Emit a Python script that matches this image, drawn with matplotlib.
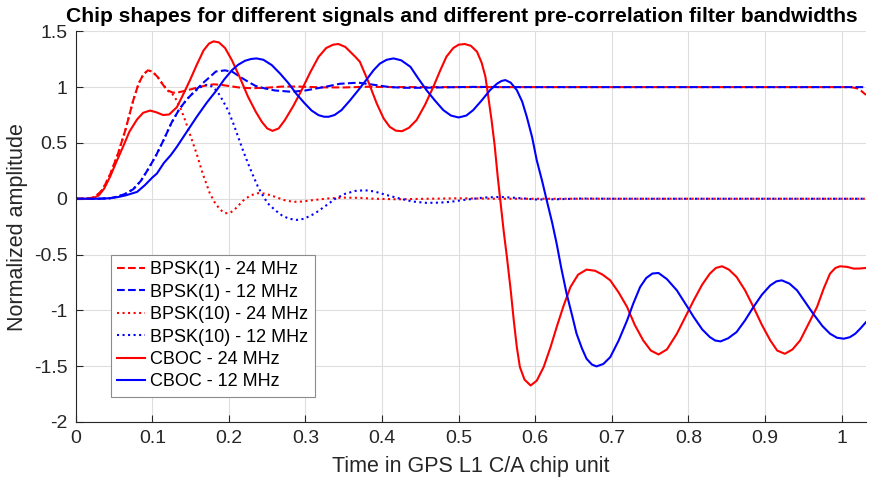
import matplotlib
matplotlib.use("Agg")
import matplotlib.pyplot as plt

plt.rcParams['font.family'] = ['Liberation Sans', 'DejaVu Sans']

# BPSK(1), 24 MHz
bpsk1_24_x = [0, 0.015, 0.025, 0.035, 0.045, 0.055, 0.065, 0.075, 0.082, 0.088, 0.094, 0.100, 0.107,
              0.114, 0.120, 0.127, 0.135, 0.145, 0.158, 0.170, 0.180, 0.190, 0.200, 0.215, 0.230,
              0.250, 0.270, 0.290, 0.320, 0.350, 0.380, 0.420, 0.500, 0.600, 0.700, 0.800, 0.900,
              1.000, 1.012, 1.020, 1.026, 1.032]
bpsk1_24_y = [0, 0, 0.015, 0.08, 0.22, 0.40, 0.62, 0.88, 1.03, 1.11, 1.15, 1.14, 1.09,
              1.02, 0.97, 0.95, 0.955, 0.97, 0.995, 1.015, 1.025, 1.02, 1.01, 0.995, 0.99,
              0.995, 1.005, 1.005, 0.998, 0.997, 1.003, 1.0, 1.0, 1.0, 1.0, 1.0, 1.0,
              1.0, 1.0, 0.99, 0.965, 0.93]

# BPSK(1), 12 MHz
bpsk1_12_x = [0, 0.030, 0.045, 0.055, 0.065, 0.075, 0.085, 0.095, 0.105, 0.115, 0.125, 0.135, 0.145,
              0.155, 0.165, 0.175, 0.183, 0.195, 0.205, 0.215, 0.225, 0.235, 0.247, 0.260, 0.282,
              0.300, 0.326, 0.345, 0.369, 0.390, 0.410, 0.430, 0.455, 0.480, 0.520, 0.560, 0.700,
              0.850, 1.000, 1.032]
bpsk1_12_y = [0, 0, 0.005, 0.02, 0.045, 0.085, 0.16, 0.27, 0.39, 0.53, 0.68, 0.80, 0.89,
              0.96, 1.03, 1.09, 1.14, 1.15, 1.135, 1.09, 1.048, 1.01, 0.988, 0.97, 0.958,
              0.97, 1.003, 1.03, 1.04, 1.02, 1.0, 0.994, 0.994, 0.998, 1.002, 1.0, 1.0,
              1.0, 1.0, 1.0]

# BPSK(10), 24 MHz
bpsk10_24_x = [0, 0.015, 0.025, 0.035, 0.045, 0.055, 0.065, 0.075, 0.082, 0.088, 0.094, 0.100, 0.107,
               0.114, 0.120, 0.126, 0.132, 0.138, 0.143, 0.150, 0.158, 0.166, 0.175, 0.182, 0.189,
               0.195, 0.202, 0.210, 0.218, 0.228, 0.238, 0.248, 0.260, 0.272, 0.284, 0.296, 0.310,
               0.330, 0.350, 0.370, 0.390, 0.420, 0.460, 0.500, 0.550, 0.600, 0.800, 1.032]
bpsk10_24_y = [0, 0, 0.015, 0.08, 0.22, 0.40, 0.62, 0.88, 1.03, 1.11, 1.15, 1.14, 1.09,
               1.02, 0.97, 0.94, 0.88, 0.79, 0.70, 0.56, 0.40, 0.22, 0.05, -0.04, -0.10,
               -0.13, -0.125, -0.08, -0.02, 0.03, 0.05, 0.045, 0.018, -0.012, -0.028, -0.025, -0.012,
               0.003, 0.01, 0.008, 0.0, -0.005, 0.0, 0.004, 0.0, 0.0, 0.0, 0.0]

# BPSK(10), 12 MHz
bpsk10_12_x = [0, 0.030, 0.045, 0.055, 0.065, 0.075, 0.085, 0.095, 0.105, 0.115, 0.125, 0.135, 0.145,
               0.155, 0.163, 0.171, 0.178, 0.185, 0.192, 0.199, 0.206, 0.212, 0.218, 0.225, 0.232,
               0.238, 0.245, 0.251, 0.260, 0.269, 0.278, 0.288, 0.298, 0.312, 0.325, 0.339, 0.352,
               0.365, 0.378, 0.390, 0.405, 0.424, 0.440, 0.458, 0.475, 0.489, 0.510, 0.532, 0.554,
               0.575, 0.602, 0.630, 0.660, 0.700, 0.850, 1.032]
bpsk10_12_y = [0, 0, 0.005, 0.02, 0.045, 0.085, 0.16, 0.27, 0.39, 0.53, 0.68, 0.80, 0.89,
               0.96, 1.0, 1.02, 1.005, 0.96, 0.88, 0.79, 0.67, 0.555, 0.44, 0.316, 0.20,
               0.106, 0.02, -0.043, -0.10, -0.148, -0.178, -0.19, -0.18, -0.133, -0.07, 0.0, 0.045,
               0.07, 0.076, 0.065, 0.035, 0.0, -0.025, -0.037, -0.035, -0.028, -0.008, 0.01, 0.016,
               0.008, -0.007, -0.004, 0.002, 0.0, 0.0, 0.0]

# CBOC, 24 MHz
cboc_24_x = [0, 0.015, 0.023, 0.030, 0.037, 0.045, 0.053, 0.062, 0.070, 0.080, 0.088, 0.097, 0.105,
             0.114, 0.122, 0.132, 0.140, 0.149, 0.158, 0.167, 0.174, 0.180, 0.187, 0.195, 0.204,
             0.214, 0.225, 0.235, 0.243, 0.250, 0.257, 0.265, 0.273, 0.284, 0.295, 0.306, 0.317,
             0.327, 0.336, 0.343, 0.352, 0.365, 0.371, 0.382, 0.393, 0.402, 0.410, 0.418, 0.426,
             0.435, 0.445, 0.456, 0.467, 0.476, 0.484, 0.493, 0.500, 0.508, 0.516, 0.524, 0.530,
             0.535, 0.539, 0.543, 0.547, 0.551, 0.555, 0.559, 0.563, 0.568, 0.572, 0.576, 0.580,
             0.586, 0.594, 0.602, 0.611, 0.620, 0.628, 0.637, 0.646, 0.656, 0.667, 0.678, 0.688,
             0.698, 0.709, 0.720, 0.730, 0.741, 0.751, 0.761, 0.772, 0.785, 0.796, 0.807, 0.818,
             0.828, 0.836, 0.844, 0.853, 0.863, 0.874, 0.885, 0.896, 0.907, 0.916, 0.926, 0.936,
             0.946, 0.957, 0.968, 0.977, 0.985, 0.992, 0.998, 1.007, 1.016, 1.024, 1.032]
cboc_24_y = [0, 0, 0.005, 0.03, 0.09, 0.20, 0.33, 0.47, 0.60, 0.71, 0.77, 0.79, 0.775,
             0.75, 0.755, 0.82, 0.93, 1.06, 1.20, 1.33, 1.39, 1.41, 1.40, 1.35, 1.24,
             1.09, 0.913, 0.78, 0.689, 0.63, 0.608, 0.63, 0.704, 0.83, 0.973, 1.13, 1.27,
             1.35, 1.38, 1.386, 1.36, 1.272, 1.227, 1.05, 0.854, 0.72, 0.644, 0.61, 0.605,
             0.635, 0.704, 0.84, 1.003, 1.15, 1.272, 1.35, 1.38, 1.386, 1.37, 1.317, 1.22,
             1.092, 0.90, 0.704, 0.48, 0.20, -0.05, -0.30, -0.52, -0.82, -1.09, -1.33, -1.508,
             -1.62, -1.673, -1.63, -1.508, -1.33, -1.15, -0.96, -0.791, -0.68, -0.635, -0.645, -0.68,
             -0.731, -0.84, -0.97, -1.13, -1.269, -1.36, -1.395, -1.35, -1.209, -1.06, -0.91, -0.77,
             -0.671, -0.62, -0.605, -0.635, -0.701, -0.82, -0.97, -1.13, -1.269, -1.36, -1.389, -1.35,
             -1.269, -1.12, -0.97, -0.80, -0.671, -0.62, -0.605, -0.61, -0.626, -0.625, -0.62]

# CBOC, 12 MHz
cboc_12_x = [0, 0.030, 0.045, 0.055, 0.065, 0.080, 0.090, 0.100, 0.106, 0.115, 0.124, 0.132, 0.145,
             0.158, 0.171, 0.184, 0.194, 0.204, 0.212, 0.221, 0.229, 0.236, 0.245, 0.256, 0.267,
             0.278, 0.288, 0.299, 0.308, 0.317, 0.324, 0.330, 0.338, 0.347, 0.358, 0.369, 0.380,
             0.389, 0.397, 0.406, 0.415, 0.425, 0.437, 0.447, 0.458, 0.469, 0.480, 0.490, 0.500,
             0.510, 0.519, 0.530, 0.541, 0.550, 0.556, 0.561, 0.568, 0.576, 0.583, 0.589, 0.596,
             0.602, 0.609, 0.615, 0.622, 0.628, 0.634, 0.641, 0.648, 0.654, 0.661, 0.667, 0.674,
             0.680, 0.689, 0.698, 0.709, 0.720, 0.728, 0.737, 0.745, 0.753, 0.761, 0.772, 0.785,
             0.796, 0.807, 0.818, 0.828, 0.835, 0.842, 0.852, 0.863, 0.874, 0.885, 0.896, 0.907,
             0.915, 0.922, 0.932, 0.942, 0.953, 0.963, 0.975, 0.985, 0.994, 1.003, 1.011, 1.018,
             1.025, 1.032]
cboc_12_y = [0, 0, 0.005, 0.015, 0.03, 0.061, 0.12, 0.19, 0.226, 0.32, 0.39, 0.465, 0.60,
             0.734, 0.86, 0.973, 1.07, 1.152, 1.20, 1.236, 1.252, 1.257, 1.245, 1.197, 1.12,
             1.033, 0.94, 0.854, 0.79, 0.749, 0.735, 0.734, 0.75, 0.794, 0.88, 0.973, 1.07,
             1.152, 1.21, 1.245, 1.257, 1.24, 1.182, 1.08, 0.973, 0.88, 0.794, 0.745, 0.728,
             0.745, 0.794, 0.88, 0.973, 1.03, 1.055, 1.063, 1.04, 0.973, 0.87, 0.734, 0.55,
             0.345, 0.16, -0.013, -0.21, -0.402, -0.62, -0.85, -1.04, -1.209, -1.34, -1.433, -1.485,
             -1.502, -1.48, -1.419, -1.27, -1.09, -0.94, -0.791, -0.71, -0.67, -0.665, -0.72, -0.821,
             -0.94, -1.06, -1.17, -1.239, -1.27, -1.278, -1.25, -1.194, -1.09, -0.97, -0.86, -0.776,
             -0.74, -0.731, -0.76, -0.821, -0.93, -1.03, -1.14, -1.209, -1.245, -1.254, -1.24, -1.209,
             -1.16, -1.105]

x_ticks = [0, 0.1, 0.2, 0.3, 0.4, 0.5, 0.6, 0.7, 0.8, 0.9, 1]
y_ticks = [-2, -1.5, -1, -0.5, 0, 0.5, 1, 1.5]

fig = plt.figure(figsize=(8.8, 4.86), dpi=100)
ax = fig.add_axes([0.0861, 0.1317, 0.898, 0.8039])

lw = 1.5
ax.plot(bpsk1_24_x, bpsk1_24_y, '--', color='red', lw=lw, label='BPSK(1) - 24 MHz')
ax.plot(bpsk1_12_x, bpsk1_12_y, '--', color='blue', lw=lw, label='BPSK(1) - 12 MHz')
ax.plot(bpsk10_24_x, bpsk10_24_y, ':', color='red', lw=lw, label='BPSK(10) - 24 MHz')
ax.plot(bpsk10_12_x, bpsk10_12_y, ':', color='blue', lw=lw, label='BPSK(10) - 12 MHz')
ax.plot(cboc_24_x, cboc_24_y, '-', color='red', lw=lw, label='CBOC - 24 MHz')
ax.plot(cboc_12_x, cboc_12_y, '-', color='blue', lw=lw, label='CBOC - 12 MHz')

ax.set_xlim(0, 1.032)
ax.set_ylim(-2, 1.5)
ax.set_xticks(x_ticks)
ax.set_xticklabels(['0', '0.1', '0.2', '0.3', '0.4', '0.5', '0.6', '0.7', '0.8', '0.9', '1'])
ax.set_yticks(y_ticks)
ax.set_yticklabels(['-2', '-1.5', '-1', '-0.5', '0', '0.5', '1', '1.5'])

ax.grid(True, color='#dedede', lw=0.8)
ax.set_axisbelow(True)
for s in ['top', 'right']:
    ax.spines[s].set_visible(False)
for s in ['left', 'bottom']:
    ax.spines[s].set_color('#262626')
    ax.spines[s].set_linewidth(0.8)
ax.tick_params(direction='in', length=5, width=0.8, colors='#262626', labelsize=14, pad=6)

ax.set_xlabel('Time in GPS L1 C/A chip unit', fontsize=15.5, color='#262626', labelpad=6)
ax.set_ylabel('Normalized amplitude', fontsize=15.5, color='#262626', labelpad=4)
ax.set_title('Chip shapes for different signals and different pre-correlation filter bandwidths',
             fontsize=15.2, fontweight='bold', pad=7, x=0.489)

leg = ax.legend(loc='upper left', bbox_to_anchor=(0.044, 0.4274), borderaxespad=0,
                fontsize=13, handlelength=1.55, handletextpad=0.3, borderpad=0.35,
                labelspacing=0.3, fancybox=False, framealpha=1, edgecolor='#8c8c8c')
leg.get_frame().set_linewidth(0.8)

fig.savefig('out.png', dpi=100)
